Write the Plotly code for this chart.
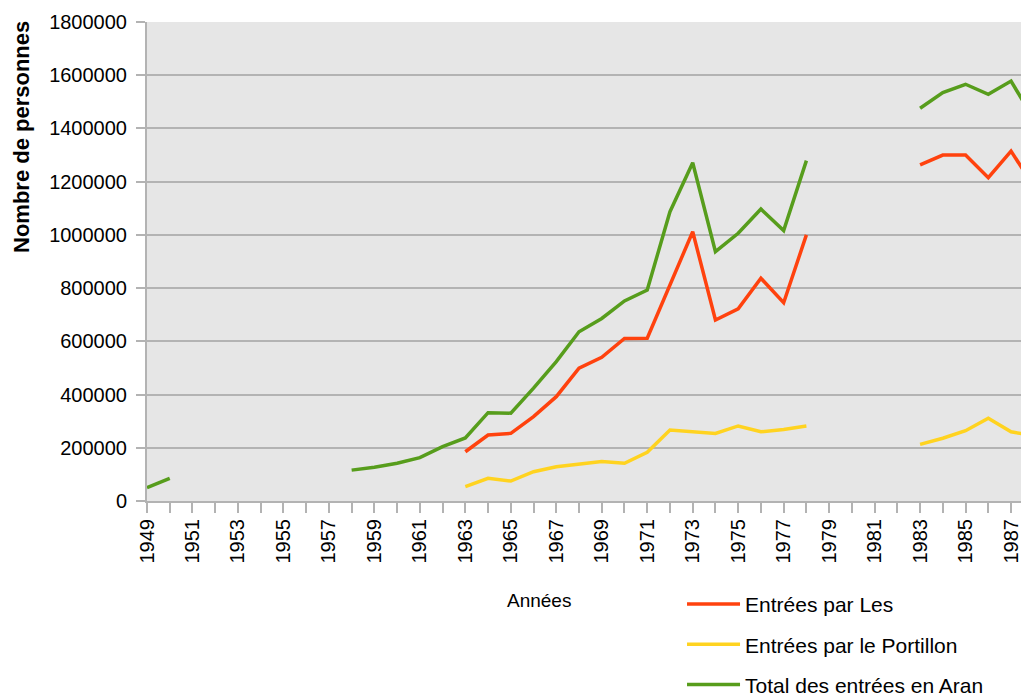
import plotly.graph_objects as go

years = list(range(1949, 1989))

# values per year (None = no data)
total_vals = [50000, 85000, None, None, None, None, None, None, None,
              116000, 127000, 142000, 163000, 204000, 237000, 332000, 330000,
              424000, 524000, 636000, 686000, 752000, 793000, 1087000, 1271000,
              937000, 1006000, 1097000, 1016000, 1279000,
              None, None, None, None,
              1476000, 1535000, 1566000, 1528000, 1578000, 1435000]

les_vals = [None] * 14 + [185000, 248000, 254000, 317000, 392000, 499000, 540000,
                          611000, 612000, 808000, 1012000, 680000, 722000, 837000,
                          745000, 1000000,
                          None, None, None, None,
                          1263000, 1300000, 1300000, 1215000, 1315000, 1182000]

portillon_vals = [None] * 14 + [54000, 85000, 75000, 110000, 129000, 138000, 148000,
                                142000, 183000, 267000, 260000, 254000, 282000, 260000,
                                269000, 282000,
                                None, None, None, None,
                                213000, 236000, 264000, 311000, 260000, 245000]

names = ["Entrées par Les", "Entrées par le Portillon", "Total des entrées en Aran"]
colors = ["#ff420e", "#ffd320", "#579d1c"]
tick_years = list(range(1949, 1989, 2))

FONT = "Liberation Sans, Arial, sans-serif"

fig = go.Figure()
for i, (nm, vals, col) in enumerate(zip(names, [les_vals, portillon_vals, total_vals], colors)):
    fig.add_trace(go.Scatter(x=years, y=vals, name=nm, mode="lines",
                             line=dict(color=col, width=3.5),
                             connectgaps=False, legendgroup=str(i)))

# page body has an 8px margin, so the figure is sized to fit the window exactly
fig.update_layout(
    width=1021, height=687,
    margin=dict(l=139, r=0, t=14, b=194, autoexpand=False),
    paper_bgcolor="white",
    plot_bgcolor="#e6e6e6",
    font=dict(family=FONT, size=20, color="#000000"),
    showlegend=True,
    legend=dict(x=0.6066, y=-0.173, xanchor="left", yanchor="top",
                font=dict(size=21, color="#000000"), itemwidth=53,
                tracegroupgap=10, bgcolor="rgba(0,0,0,0)"),
    xaxis=dict(range=[1949, 1987.79], tickmode="array", tickvals=tick_years,
               ticktext=[str(y) for y in tick_years], tickangle=-90,
               showgrid=False, zeroline=False, showline=True, linecolor="#b3b3b3",
               linewidth=2, ticks="outside", ticklen=10, tickcolor="#b3b3b3",
               tickwidth=2, ticklabelstandoff=-2,
               minor=dict(dtick=1, tick0=1949, ticks="outside", ticklen=10,
                          tickcolor="#b3b3b3", tickwidth=2, showgrid=False),
               tickfont=dict(size=20, color="#000000")),
    yaxis=dict(range=[0, 1800000], dtick=200000, tickformat="d",
               showgrid=True, gridcolor="#b3b3b3", gridwidth=2, zeroline=False,
               showline=True, linecolor="#b3b3b3", linewidth=2,
               ticks="outside", ticklen=9, tickcolor="#b3b3b3", tickwidth=2,
               ticklabelstandoff=5,
               tickfont=dict(size=20, color="#000000")),
)

fig.add_annotation(text="Nombre de personnes", textangle=-90, xref="paper", yref="paper",
                   x=(21 - 147) / 882, y=(501 - 137) / 479, xanchor="center", yanchor="middle",
                   showarrow=False, font=dict(size=22, family=FONT, color="#000000", weight="bold"))
fig.add_annotation(text="Années", xref="paper", yref="paper",
                   x=(539 - 147) / 882, y=-(600 - 501) / 479, xanchor="center", yanchor="middle",
                   showarrow=False, font=dict(size=19, family=FONT, color="#000000"))

fig.write_html("out.html")
